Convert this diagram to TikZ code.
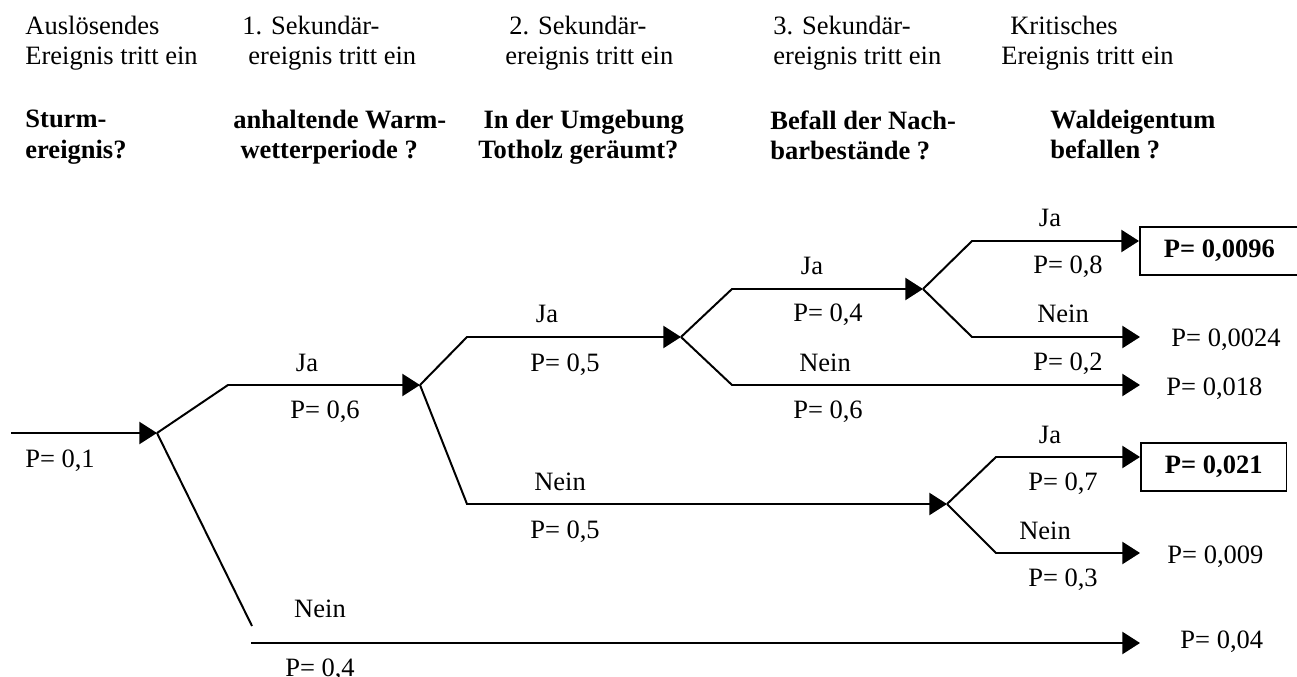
\documentclass[tikz,border=0pt]{standalone}
\usepackage{fontspec}
\setmainfont{Liberation Serif}
\usetikzlibrary{arrows.meta, positioning}
\newcommand{\treefont}{\fontsize{12}{13.6}\selectfont}
\tikzset{
  branch/.style={line width=0.9pt},
  go/.style={branch, -{Triangle[length=8pt, width=10pt]}},
  lab/.style={anchor=base, inner sep=0pt},
  endlab/.style={anchor=base west, inner sep=0pt},
  head/.style={anchor=north west, align=left, inner sep=0pt},
  bhead/.style={head, font=\treefont\bfseries},
  result/.style={draw, line width=0.8pt, anchor=west, font=\treefont\bfseries,
    inner xsep=10.9pt, inner ysep=0pt, minimum height=21.7pt}
}
\begin{document}
\begin{tikzpicture}[x=0.4528pt, y=-0.4528pt, font=\treefont]
    \useasboundingbox (0,0) rectangle (1297,677);
    \node[head] (h1) at (25,16) {Auslösendes\\Ereignis tritt ein};
    \node[head] (h2) at (242,16) {1. Sekundär-\\\hspace*{2.7pt}ereignis tritt ein};
    \node[head] (h3) at (505,16) {\hspace*{1.8pt}2. Sekundär-\\ereignis tritt ein};
    \node[head] (h4) at (773,16) {3. Sekundär-\\ereignis tritt ein};
    \node[head] (h5) at (1001,16) {\hspace*{4pt}Kritisches\\Ereignis tritt ein};
    \node[bhead] (q1) at (25,110) {Sturm-\\ereignis?};
    \node[bhead] (q2) at (233,110) {anhaltende Warm-\\\hspace*{3.2pt}wetterperiode ?};
    \node[bhead] (q3) at (478,110) {\hspace*{2.3pt}In der Umgebung\\Totholz geräumt?};
    \node[bhead] (q4) at (770,110) {Befall der Nach-\\barbestände ?};
    \node[bhead] (q5) at (1050,110) {Waldeigentum\\befallen ?};

    \coordinate (start) at (11,433);
    \coordinate (k1) at (157,433);
    \coordinate (k2) at (420,385);
    \coordinate (k3) at (681,337);
    \coordinate (k4) at (923,289);
    \coordinate (k5) at (947,504);
    \coordinate (j1) at (228,385);
    \coordinate (n1) at (252,626);
    \coordinate (n1b) at (251,643);
    \coordinate (j2) at (467,337);
    \coordinate (n2) at (467,504);
    \coordinate (j3) at (732,289);
    \coordinate (n3) at (732,385);
    \coordinate (j4) at (972,241);
    \coordinate (n4) at (972,337);
    \coordinate (j5) at (996,457);
    \coordinate (n5) at (996,553);
    \coordinate (e2) at (1140,337);
    \coordinate (e3) at (1140,385);
    \coordinate (e5) at (1140,553);
    \coordinate (e6) at (1140,643);

    \node[result, minimum width=71.1pt] (r1) at (1139,251) {P= 0,0096};
    \node[result] (r4) at (1140,467) {P= 0,021};
    \node[endlab] (r2) at (1171,347) {P= 0,0024};
    \node[endlab] (r3) at (1166,395) {P= 0,018};
    \node[endlab] (r5) at (1167,563) {P= 0,009};
    \node[endlab] (r6) at (1180,648) {P= 0,04};

    \draw[go] (start) -- (k1);
    \draw[go] (k1) -- (j1) -- (k2);
    \draw[branch] (k1) -- (n1);
    \draw[go] (n1b) -- (e6);
    \draw[go] (k2) -- (j2) -- (k3);
    \draw[go] (k2) -- (n2) -- (k5);
    \draw[go] (k3) -- (j3) -- (k4);
    \draw[go] (k3) -- (n3) -- (e3);
    \draw[go] (k4) -- (j4) -- (j4 -| r1.west);
    \draw[go] (k4) -- (n4) -- (e2);
    \draw[go] (k5) -- (j5) -- (j5 -| r4.west);
    \draw[go] (k5) -- (n5) -- (e5);

    \node[lab] (p0) at (60,467) {P= 0,1};
    \node[lab] (ja1) at (307,371) {Ja};
    \node[lab] (pja1) at (325,418) {P= 0,6};
    \node[lab] (nein1) at (320,617) {Nein};
    \node[lab] (pnein1) at (320,676) {P= 0,4};
    \node[lab] (ja2) at (547,323) {Ja};
    \node[lab] (pja2) at (565,371) {P= 0,5};
    \node[lab] (nein2) at (560,490) {Nein};
    \node[lab] (pnein2) at (565,538) {P= 0,5};
    \node[lab] (ja3) at (812,275) {Ja};
    \node[lab] (pja3) at (828,322) {P= 0,4};
    \node[lab] (nein3) at (825,371) {Nein};
    \node[lab] (pnein3) at (828,418) {P= 0,6};
    \node[lab] (ja4) at (1050,227) {Ja};
    \node[lab] (pja4) at (1068,274) {P= 0,8};
    \node[lab] (nein4) at (1063,323) {Nein};
    \node[lab] (pnein4) at (1068,370) {P= 0,2};
    \node[lab] (ja5) at (1050,443) {Ja};
    \node[lab] (pja5) at (1063,490) {P= 0,7};
    \node[lab] (nein5) at (1045,539) {Nein};
    \node[lab] (pnein5) at (1063,586) {P= 0,3};
\end{tikzpicture}
\end{document}
